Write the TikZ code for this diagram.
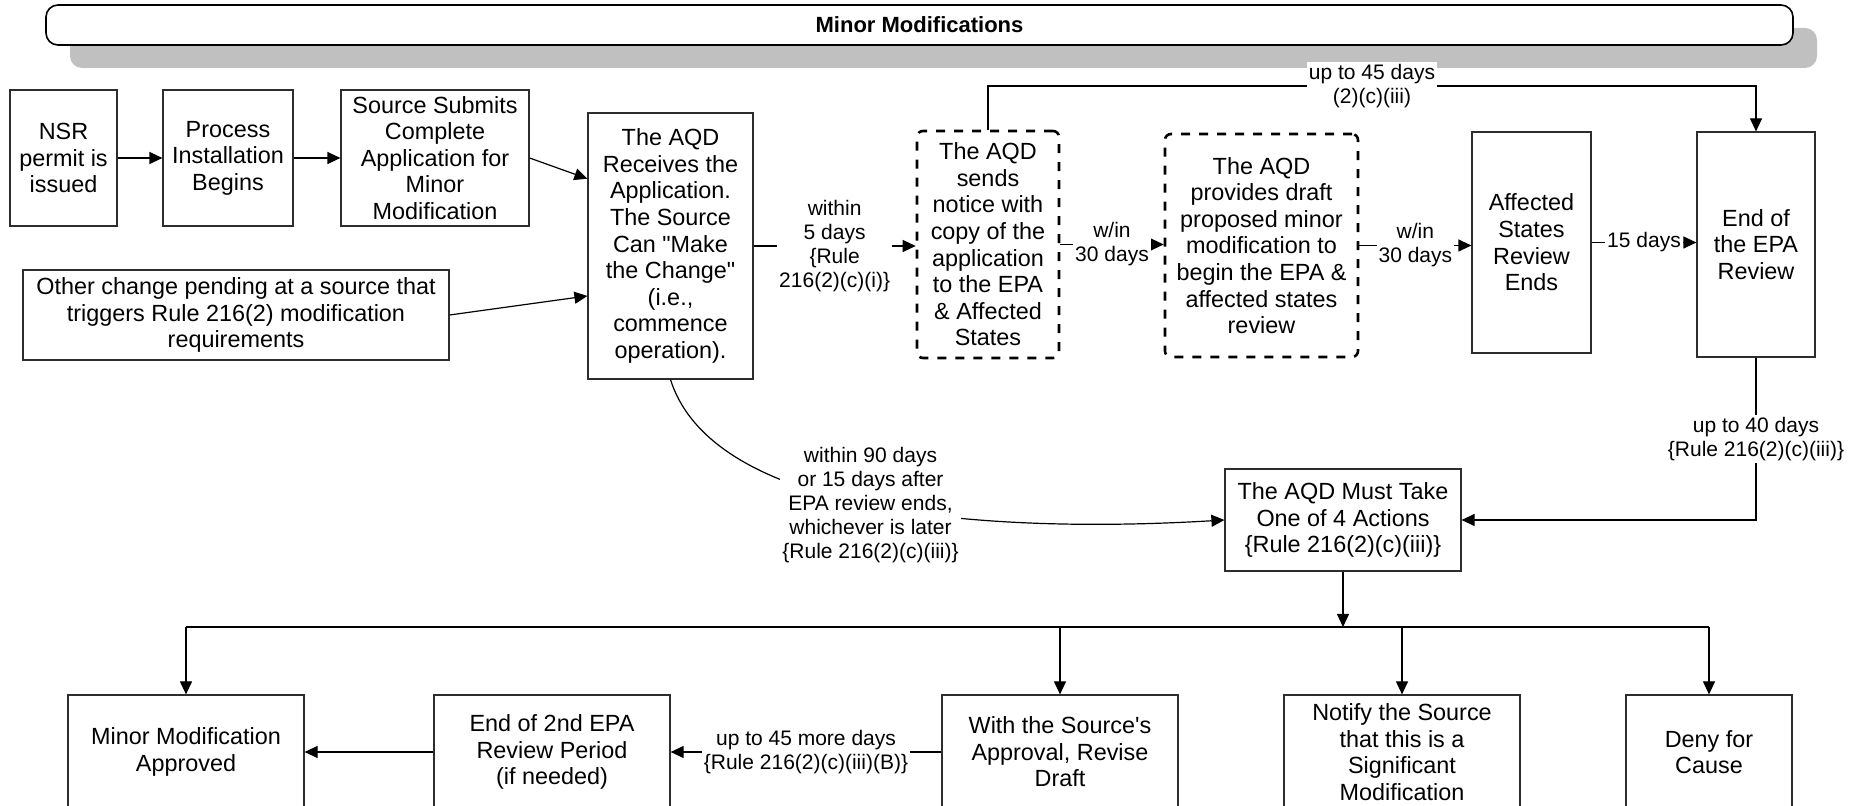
\documentclass[tikz,border=0pt]{standalone}
\usepackage{fontspec}
\setmainfont{Liberation Sans}
\usepackage{tikz}
\usetikzlibrary{arrows.meta, shadows}
\definecolor{lineColor}{RGB}{45, 45, 45}
\definecolor{shadowColor}{RGB}{192, 192, 192}

\begin{document}
\begin{tikzpicture}[
  x=0.5pt, y=-0.5pt,
  every node/.style={font=\fontsize{11.7}{13.3}\selectfont},
  boxsize/.style 2 args={minimum width=#1*0.5pt, minimum height=#2*0.5pt},
  box/.style={draw=lineColor, line width=0.6pt, align=center, inner sep=1pt},
  dbox/.style={draw=black, line width=1.3pt, dash pattern=on 4.5pt off 4.5pt,
    rounded corners=3pt, align=center, inner sep=1pt},
  lab/.style={fill=white, inner sep=1pt, align=center,
    font=\fontsize{10.5}{12}\selectfont},
  link/.style={draw=black, line width=0.6pt},
  arr/.style={link, -{Triangle[length=6.5pt, width=6pt]}},
  titlebox/.style={draw=black, line width=0.8pt, rounded corners=6pt, fill=white,
    font=\bfseries\fontsize{11}{12}\selectfont,
    drop shadow={shadow xshift=12pt, shadow yshift=-11.5pt, fill=shadowColor, opacity=1}}
]
\useasboundingbox (0,0) rectangle (1860,806);

\node[titlebox, boxsize={1747}{40}] (title) at (919.5,25) {Minor Modifications};

\node[box, boxsize={107}{136}] (nsr) at (63.5,158) {NSR\\permit is\\issued};
\node[box, boxsize={130}{136}] (proc) at (228,158) {Process\\Installation\\Begins};
\node[box, boxsize={188}{136}] (submit) at (435,158) {Source Submits\\Complete\\Application for\\Minor\\Modification};
\node[box, boxsize={426}{90}] (other) at (236,315) {Other change pending at a source that\\triggers Rule 216(2) modification\\requirements};
\node[box, boxsize={165}{266}] (recv) at (670.5,246) {The AQD\\Receives the\\Application.\\The Source\\Can \textquotedbl Make\\the Change\textquotedbl\\(i.e.,\\commence\\operation).};
\node[dbox, boxsize={142}{227}] (sends) at (988,244.5) {The AQD\\sends\\notice with\\copy of the\\application\\to the EPA\\\& Affected\\States};
\node[dbox, boxsize={193}{223}] (provides) at (1261.5,245.5) {The AQD\\provides draft\\proposed minor\\modification to\\begin the EPA \&\\affected states\\review};
\node[box, boxsize={119}{221}] (affected) at (1531.5,242.5) {Affected\\States\\Review\\Ends};
\node[box, boxsize={118}{225}] (endepa) at (1756,244.5) {End of\\the EPA\\Review};
\node[box, boxsize={236}{102}] (must) at (1343,520) {The AQD Must Take\\One of 4 Actions\\\{Rule 216(2)(c)(iii)\}};

\node[box, boxsize={236}{114}] (approved) at (186,752) {Minor Modification\\Approved};
\node[box, boxsize={236}{114}] (end2) at (552,752) {End of 2nd EPA\\Review Period\\(if needed)};
\node[box, boxsize={236}{114}] (revise) at (1060,752) {With the Source\textquotesingle s\\Approval, Revise\\Draft};
\node[box, boxsize={236}{114}] (notify) at (1402,752) {Notify the Source\\that this is a\\Significant\\Modification};
\node[box, boxsize={166}{114}] (deny) at (1709,752) {Deny for\\Cause};

\coordinate (topline) at (0,86);
\coordinate (bus) at (1343,627);

\draw[arr] (nsr) -- (proc);
\draw[arr] (proc) -- (submit);
\draw[arr] (submit.east) -- (recv.141);
\draw[arr] (other.east) -- (recv.211);
\draw[arr] (recv.east) -- (sends.west |- recv.east)
  node[lab, midway] {within\\5 days\\\{Rule\\216(2)(c)(i)\}};
\draw[arr] (sends.east) -- (provides.west |- sends.east)
  node[lab, midway] {w/in\\30 days};
\draw[arr] (provides.east) -- (affected.west |- provides.east)
  node[lab, midway] {w/in\\30 days};
\draw[arr] (affected.east) -- (endepa.west |- affected.east)
  node[lab, midway] {15 days};
\draw[arr] (sends.north) |- (endepa.north |- topline)
  node[lab, pos=0.75] {up to 45 days\\(2)(c)(iii)} -- (endepa.north);
\draw[arr] (endepa.south) |- (must.east)
  node[lab, pos=0.25] {up to 40 days\\\{Rule 216(2)(c)(iii)\}};
\draw[arr] (recv.south) .. controls +(46,145) and +(-200,12) .. (must.west)
  node[lab, pos=0.47] {within 90 days\\or 15 days after\\EPA review ends,\\whichever is later\\\{Rule 216(2)(c)(iii)\}};

\draw[arr] (must) -- (bus);
\draw[link] (approved.north |- bus) -- (deny.north |- bus);
\foreach \n in {approved, revise, notify, deny}
  \draw[arr] (\n.north |- bus) -- (\n.north);
\draw[arr] (revise.west) -- (end2.east)
  node[lab, midway] {up to 45 more days\\\{Rule 216(2)(c)(iii)(B)\}};
\draw[arr] (end2.west) -- (approved.east);
\end{tikzpicture}
\end{document}
